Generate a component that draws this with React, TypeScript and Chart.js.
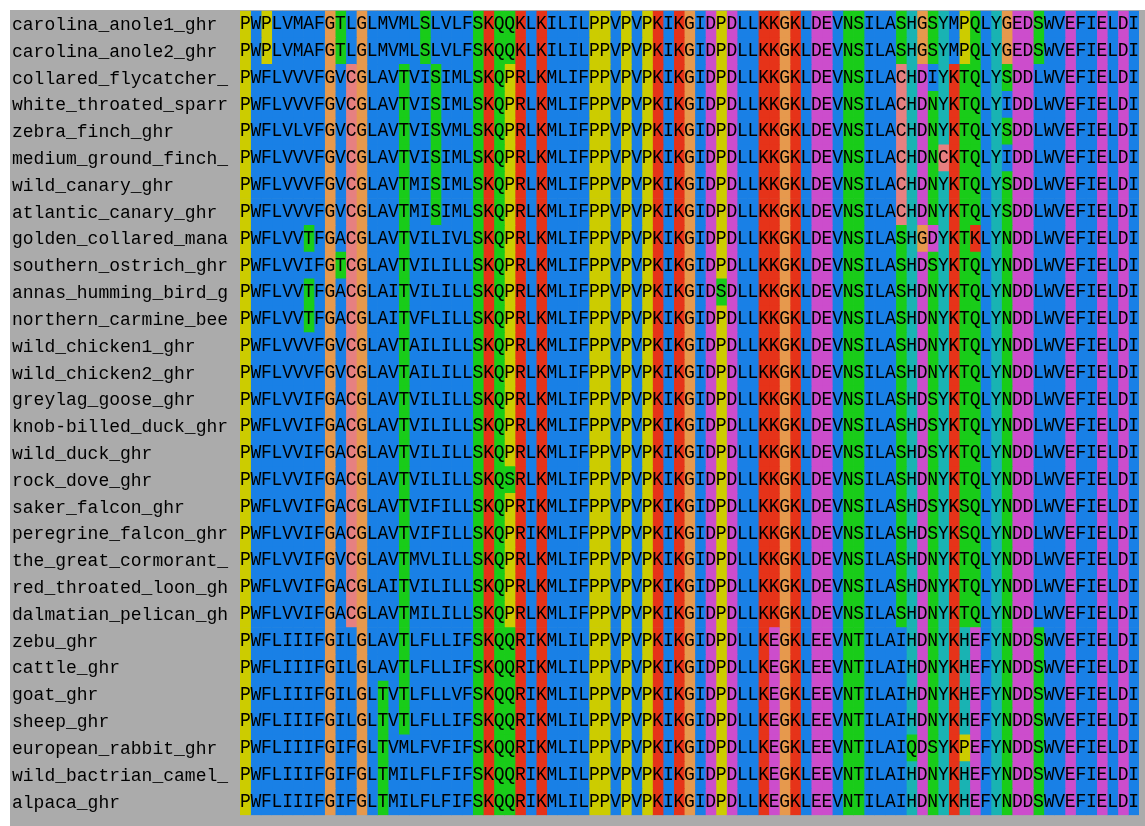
import React, { useEffect, useRef } from "react";
import { Chart, registerables } from "chart.js";

Chart.register(...registerables);

const speciesNames: string[] = [
  "carolina_anole1_ghr",
  "carolina_anole2_ghr",
  "collared_flycatcher_",
  "white_throated_sparr",
  "zebra_finch_ghr",
  "medium_ground_finch_",
  "wild_canary_ghr",
  "atlantic_canary_ghr",
  "golden_collared_mana",
  "southern_ostrich_ghr",
  "annas_humming_bird_g",
  "northern_carmine_bee",
  "wild_chicken1_ghr",
  "wild_chicken2_ghr",
  "greylag_goose_ghr",
  "knob-billed_duck_ghr",
  "wild_duck_ghr",
  "rock_dove_ghr",
  "saker_falcon_ghr",
  "peregrine_falcon_ghr",
  "the_great_cormorant_",
  "red_throated_loon_gh",
  "dalmatian_pelican_gh",
  "zebu_ghr",
  "cattle_ghr",
  "goat_ghr",
  "sheep_ghr",
  "european_rabbit_ghr",
  "wild_bactrian_camel_",
  "alpaca_ghr",
];

const sequences: string[] = [
  "PWPLVMAFGTLGLMVMLSLVLFSKQQKLKILILPPVPVPKIKGIDPDLLKKGKLDEVNSILASHGSYMPQLYGEDSWVEFIELDI",
  "PWPLVMAFGTLGLMVMLSLVLFSKQQKLKILILPPVPVPKIKGIDPDLLKKGKLDEVNSILASHGSYMPQLYGEDSWVEFIELDI",
  "PWFLVVVFGVCGLAVTVISIMLSKQPRLKMLIFPPVPVPKIKGIDPDLLKKGKLDEVNSILACHDIYKTQLYSDDLWVEFIELDI",
  "PWFLVVVFGVCGLAVTVISIMLSKQPRLKMLIFPPVPVPKIKGIDPDLLKKGKLDEVNSILACHDNYKTQLYIDDLWVEFIELDI",
  "PWFLVLVFGVCGLAVTVISVMLSKQPRLKMLIFPPVPVPKIKGIDPDLLKKGKLDEVNSILACHDNYKTQLYSDDLWVEFIELDI",
  "PWFLVVVFGVCGLAVTVISIMLSKQPRLKMLIFPPVPVPKIKGIDPDLLKKGKLDEVNSILACHDNCKTQLYIDDLWVEFIELDI",
  "PWFLVVVFGVCGLAVTMISIMLSKQPRLKMLIFPPVPVPKIKGIDPDLLKKGKLDEVNSILACHDNYKTQLYSDDLWVEFIELDI",
  "PWFLVVVFGVCGLAVTMISIMLSKQPRLKMLIFPPVPVPKIKGIDPDLLKKGKLDEVNSILACHDNYKTQLYSDDLWVEFIELDI",
  "PWFLVVTFGACGLAVTVILIVLSKQPRLKMLIFPPVPVPKIKGIDPDLLKKGKLDEVNSILASHGDYKTKLYNDDLWVEFIELDI",
  "PWFLVVIFGTCGLAVTVILILLSKQPRLKMLIFPPVPVPKIKGIDPDLLKKGKLDEVNSILASHDSYKTQLYNDDLWVEFIELDI",
  "PWFLVVTFGACGLAITVILILLSKQPRLKMLIFPPVPVPKIKGIDSDLLKKGKLDEVNSILASHDNYKTQLYNDDLWVEFIELDI",
  "PWFLVVTFGACGLAITVFLILLSKQPRLKMLIFPPVPVPKIKGIDPDLLKKGKLDEVNSILASHDNYKTQLYNDDLWVEFIELDI",
  "PWFLVVVFGVCGLAVTAILILLSKQPRLKMLIFPPVPVPKIKGIDPDLLKKGKLDEVNSILASHDNYKTQLYNDDLWVEFIELDI",
  "PWFLVVVFGVCGLAVTAILILLSKQPRLKMLIFPPVPVPKIKGIDPDLLKKGKLDEVNSILASHDNYKTQLYNDDLWVEFIELDI",
  "PWFLVVIFGACGLAVTVILILLSKQPRLKMLIFPPVPVPKIKGIDPDLLKKGKLDEVNSILASHDSYKTQLYNDDLWVEFIELDI",
  "PWFLVVIFGACGLAVTVILILLSKQPRLKMLIFPPVPVPKIKGIDPDLLKKGKLDEVNSILASHDSYKTQLYNDDLWVEFIELDI",
  "PWFLVVIFGACGLAVTVILILLSKQPRLKMLIFPPVPVPKIKGIDPDLLKKGKLDEVNSILASHDSYKTQLYNDDLWVEFIELDI",
  "PWFLVVIFGACGLAVTVILILLSKQSRLKMLIFPPVPVPKIKGIDPDLLKKGKLDEVNSILASHDNYKTQLYNDDLWVEFIELDI",
  "PWFLVVIFGACGLAVTVIFILLSKQPRIKMLIFPPVPVPKIKGIDPDLLKKGKLDEVNSILASHDSYKSQLYNDDLWVEFIELDI",
  "PWFLVVIFGACGLAVTVIFILLSKQPRIKMLIFPPVPVPKIKGIDPDLLKKGKLDEVNSILASHDSYKSQLYNDDLWVEFIELDI",
  "PWFLVVIFGVCGLAVTMVLILLSKQPRLKMLIFPPVPVPKIKGIDPDLLKKGKLDEVNSILASHDNYKTQLYNDDLWVEFIELDI",
  "PWFLVVIFGACGLAITVILILLSKQPRLKMLIFPPVPVPKIKGIDPDLLKKGKLDEVNSILASHDNYKTQLYNDDLWVEFIELDI",
  "PWFLVVIFGACGLAVTMILILLSKQPRLKMLIFPPVPVPKIKGIDPDLLKKGKLDEVNSILASHDNYKTQLYNDDLWVEFIELDI",
  "PWFLIIIFGILGLAVTLFLLIFSKQQRIKMLILPPVPVPKIKGIDPDLLKEGKLEEVNTILAIHDNYKHEFYNDDSWVEFIELDI",
  "PWFLIIIFGILGLAVTLFLLIFSKQQRIKMLILPPVPVPKIKGIDPDLLKEGKLEEVNTILAIHDNYKHEFYNDDSWVEFIELDI",
  "PWFLIIIFGILGLTVTLFLLVFSKQQRIKMLILPPVPVPKIKGIDPDLLKEGKLEEVNTILAIHDNYKHEFYNDDSWVEFIELDI",
  "PWFLIIIFGILGLTVTLFLLIFSKQQRIKMLILPPVPVPKIKGIDPDLLKEGKLEEVNTILAIHDNYKHEFYNDDSWVEFIELDI",
  "PWFLIIIFGIFGLTVMLFVFIFSKQQRIKMLILPPVPVPKIKGIDPDLLKEGKLEEVNTILAIQDSYKPEFYNDDSWVEFIELDI",
  "PWFLIIIFGIFGLTMILFLFIFSKQQRIKMLILPPVPVPKIKGIDPDLLKEGKLEEVNTILAIHDNYKHEFYNDDSWVEFIELDI",
  "PWFLIIIFGIFGLTMILFLFIFSKQQRIKMLILPPVPVPKIKGIDPDLLKEGKLEEVNTILAIHDNYKHEFYNDDSWVEFIELDI",
];

// Clustal X style residue colour groups
const residueGroups: [string, string][] = [
  ["AILMFWV", "rgb(25,128,230)"],
  ["KR", "rgb(230,51,25)"],
  ["NQST", "rgb(25,204,25)"],
  ["DE", "rgb(204,77,204)"],
  ["C", "rgb(230,128,128)"],
  ["G", "rgb(230,153,77)"],
  ["P", "rgb(204,204,0)"],
  ["HY", "rgb(25,179,179)"],
];

const BG_GRAY = "#ababab";
const FONT_FAMILY = "'Liberation Mono', 'DejaVu Sans Mono', monospace";

function colorFor(res: string): string {
  for (const [set, col] of residueGroups) {
    if (set.includes(res)) return col;
  }
  return "#ffffff";
}

export default function App() {
  const canvasRef = useRef<HTMLCanvasElement | null>(null);

  useEffect(() => {
    document.body.style.margin = "0";
    const canvas = canvasRef.current;
    if (!canvas) return;
    const nCols = Math.max(...sequences.map((s) => s.length));

    const datasets = [];
    for (let c = 0; c < nCols; c++) {
      datasets.push({
        label: `col${c + 1}`,
        data: sequences.map(() => [c, c + 1]),
        backgroundColor: sequences.map((s) => colorFor(s[c] || "-")),
        borderWidth: 0,
        borderSkipped: false,
        barPercentage: 1,
        categoryPercentage: 1,
        grouped: false,
      });
    }

    const backgroundPlugin = {
      id: "bgPlugin",
      beforeDraw(chart: any) {
        const ctx = chart.ctx;
        ctx.save();
        ctx.fillStyle = "#ffffff";
        ctx.fillRect(0, 0, chart.width, chart.height);
        ctx.fillStyle = BG_GRAY;
        ctx.fillRect(10, 10, chart.width - 10, chart.height - 10);
        ctx.restore();
      },
    };

    const lettersPlugin = {
      id: "lettersPlugin",
      afterDatasetsDraw(chart: any) {
        const ctx = chart.ctx;
        const xs = chart.scales.x;
        const ys = chart.scales.y;
        ctx.save();
        ctx.fillStyle = "#000000";
        ctx.font = `18px ${FONT_FAMILY}`;
        ctx.textAlign = "center";
        ctx.textBaseline = "alphabetic";
        sequences.forEach((seq, r) => {
          const y = ys.getPixelForValue(r);
          for (let c = 0; c < seq.length; c++) {
            const x = xs.getPixelForValue(c + 0.5);
            ctx.save();
            ctx.translate(x, y + 5);
            ctx.scale(1, 1.15);
            ctx.fillText(seq[c], 0, 0);
            ctx.restore();
          }
        });
        ctx.restore();
      },
    };

    const chart = new Chart(canvas, {
      type: "bar",
      data: { labels: speciesNames, datasets: datasets as any },
      options: {
        indexAxis: "y",
        responsive: false,
        animation: false,
        devicePixelRatio: 1,
        layout: { padding: { left: 12, top: 10, right: 6, bottom: 10 } },
        plugins: {
          legend: { display: false },
          tooltip: { enabled: false },
        },
        scales: {
          x: { type: "linear", min: 0, max: nCols, display: false },
          y: {
            type: "category",
            offset: true,
            grid: { display: false },
            border: { display: false },
            ticks: {
              color: "#000000",
              font: { family: FONT_FAMILY, size: 18 },
              crossAlign: "far",
              padding: 0,
              autoSkip: false,
              labelOffset: 1,
            },
            afterFit: (scale: any) => {
              scale.width = 228;
            },
          },
        },
      } as any,
      plugins: [backgroundPlugin, lettersPlugin],
    });

    return () => chart.destroy();
  }, []);

  return (
    <div style={{ position: "fixed", left: 0, top: 0, width: 1145, height: 826 }}>
      <canvas ref={canvasRef} width={1145} height={826} style={{ display: "block" }} />
    </div>
  );
}
